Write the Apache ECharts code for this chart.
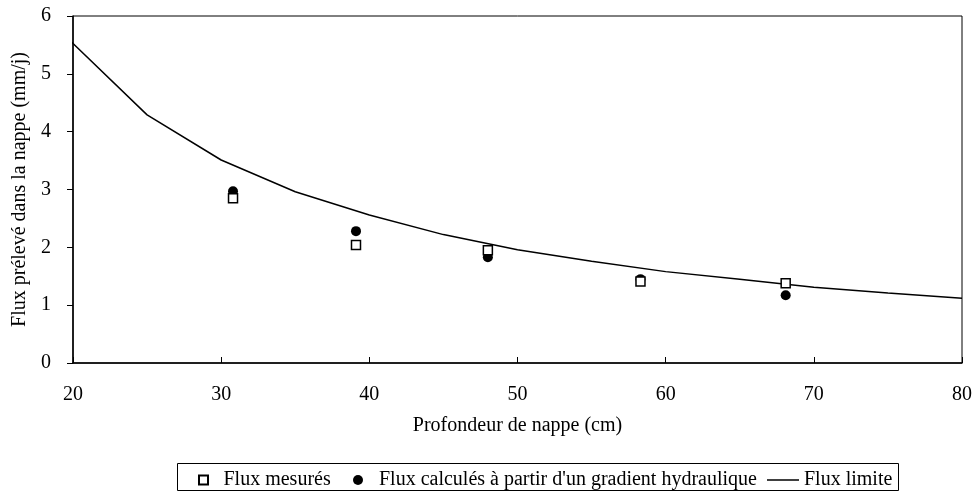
<!DOCTYPE html>
<html>
<head>
<meta charset="utf-8">
<script src="https://cdn.jsdelivr.net/npm/echarts@6/dist/echarts.min.js"></script>
<style>
  html, body { margin: 0; padding: 0; background: #fff; }
  #chart { width: 975px; height: 492px; }
</style>
</head>
<body>
<div id="chart"></div>
<script>
    // points mesurés / calculés (profondeur en cm)
    var profMesure = [30.8, 39.1, 48.0, 58.3, 68.1];
    var fluxMesure = [2.85, 2.04, 1.95, 1.41, 1.38];
    var fluxCalcule = [2.97, 2.28, 1.83, 1.45, 1.17];
    // courbe flux limite
    var profLimite = [19.7, 25, 30, 35, 40, 45, 50, 55, 60, 65, 70, 75, 80];
    var fluxLimite = [5.6, 4.29, 3.51, 2.96, 2.56, 2.22, 1.96, 1.76, 1.58, 1.45, 1.31, 1.21, 1.12];

    var font = 'Liberation Serif';
    var pair = function (xs, ys) {
        var data = [];
        for (var i = 0; i < xs.length; i++) {
            data.push([xs[i], ys[i]]);
        }
        return data;
    };

    var myChart = echarts.init(document.getElementById('chart'));
    var option = {
        animation: false,
        textStyle: { fontFamily: font, color: '#000' },
        grid: {
            left: 73, right: 12, top: 16, bottom: 129,
            show: true, borderColor: '#000', borderWidth: 1
        },
        xAxis: {
            type: 'value', min: 20, max: 80, interval: 10,
            name: 'Profondeur de nappe (cm)',
            nameLocation: 'middle', nameGap: 53,
            nameTextStyle: { fontFamily: font, fontSize: 20, color: '#000' },
            axisLine: { lineStyle: { color: '#000', width: 1.5 } },
            axisTick: { inside: true, length: 6, lineStyle: { color: '#000' } },
            axisLabel: { margin: 22, fontFamily: font, fontSize: 20, color: '#000' },
            splitLine: { show: false }
        },
        yAxis: {
            type: 'value', min: 0, max: 6, interval: 1,
            name: 'Flux prélevé dans la nappe (mm/j)',
            nameLocation: 'middle', nameGap: 42,
            nameTextStyle: { fontFamily: font, fontSize: 20, color: '#000' },
            axisLine: { lineStyle: { color: '#000', width: 1.5 } },
            axisTick: { inside: false, length: 6, lineStyle: { color: '#000' } },
            axisLabel: { margin: 22, fontFamily: font, fontSize: 20, color: '#000' },
            splitLine: { show: false }
        },
        legend: [
            {
                data: [{ name: 'Flux mesurés', icon: 'path://M0,0H10V10H0Z' }],
                left: 193, top: 465, itemWidth: 18, itemHeight: 9,
                textStyle: { fontFamily: font, fontSize: 20, color: '#000', padding: [0, 0, 0, 6] }
            },
            {
                data: [{ name: "Flux calculés à partir d'un gradient hydraulique", icon: 'circle' }],
                left: 348, top: 465, itemWidth: 10, itemHeight: 10,
                textStyle: { fontFamily: font, fontSize: 20, color: '#000', padding: [0, 0, 0, 11] }
            },
            {
                data: [{ name: 'Flux limite', icon: 'rect', itemStyle: { color: '#000' } }],
                left: 762, top: 465, itemWidth: 32, itemHeight: 1.5,
                textStyle: { fontFamily: font, fontSize: 20, color: '#000' }
            }
        ],
        graphic: [{
            type: 'rect',
            shape: { x: 177.5, y: 463.5, width: 721, height: 27 },
            style: { fill: 'none', stroke: '#000', lineWidth: 1 }
        }],
        series: [
            {
                name: 'Flux mesurés',
                type: 'scatter',
                symbol: 'rect',
                symbolSize: 9,
                z: 4,
                itemStyle: { color: '#fff', borderColor: '#000', borderWidth: 1.5, opacity: 1 },
                data: pair(profMesure, fluxMesure)
            },
            {
                name: "Flux calculés à partir d'un gradient hydraulique",
                type: 'scatter',
                symbol: 'circle',
                symbolSize: 10,
                z: 3,
                itemStyle: { color: '#000', opacity: 1 },
                data: pair(profMesure, fluxCalcule)
            },
            {
                name: 'Flux limite',
                type: 'line',
                symbol: 'none',
                clip: false,
                z: 2,
                lineStyle: { color: '#000', width: 1.5 },
                itemStyle: { color: '#000' },
                data: pair(profLimite, fluxLimite)
            }
        ]
    };
    myChart.setOption(option);
</script>
</body>
</html>
